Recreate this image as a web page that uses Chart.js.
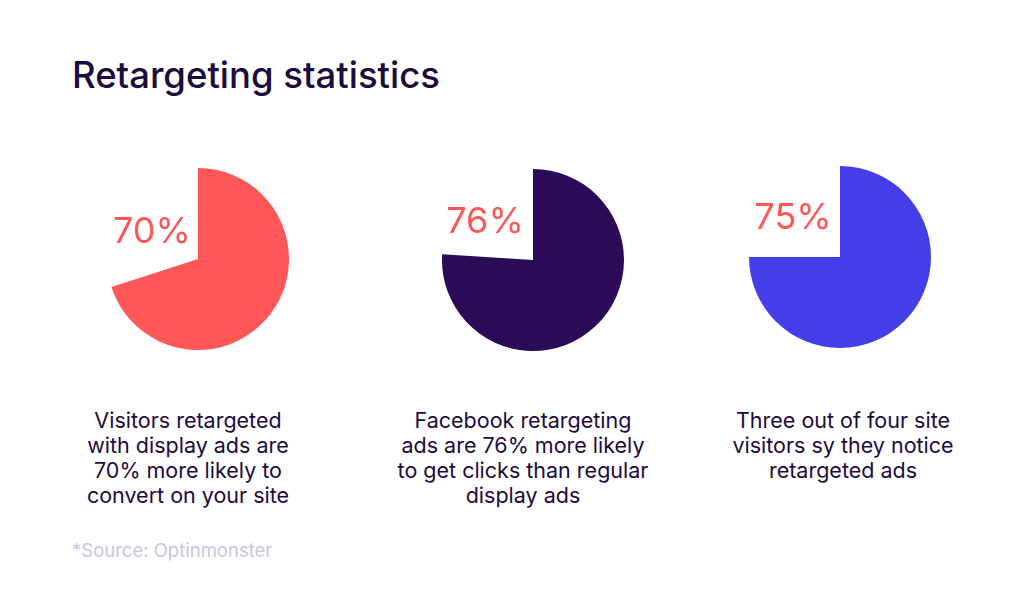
<!DOCTYPE html>
<html>
<head>
<meta charset="utf-8">
<script src="https://cdn.jsdelivr.net/npm/chart.js@4"></script>
<style>
    body { margin: 0; background: #fff; width: 1024px; height: 590px; overflow: hidden; font-family: Inter, "Noto Sans", sans-serif; }
    #title { position: absolute; left: 72px; top: 53px; font-size: 36.5px; font-weight: 500; color: #1c0b3d; margin: 0; letter-spacing: 0px; }
    .pie { position: absolute; width: 182px; height: 182px; }
    .pct { position: absolute; font-size: 36px; color: #ff5757; transform: translate(-50%, -50%); white-space: nowrap; }
    .desc { position: absolute; top: 408px; width: 320px; transform: translateX(-50%); text-align: center; font-size: 21.5px; line-height: 25px; color: #1c0b3d; }
    #source { position: absolute; left: 72px; top: 539px; font-size: 18.5px; color: #c9c4de; }
</style>
</head>
<body>
<h1 id="title">Retargeting statistics</h1>
<div id="charts"></div>
<div id="source">*Source: Optinmonster</div>
<script>
// valores de cada torta
const values = [70, 76, 75];
const labels = ["70%", "76%", "75%"];
const descriptions = [
    "Visitors retargeted<br>with display ads are<br>70% more likely to<br>convert on your site",
    "Facebook retargeting<br>ads are 76% more likely<br>to get clicks than regular<br>display ads",
    "Three out of four site<br>visitors sy they notice<br>retargeted ads"
];
const colors = ["#ff5757", "#2b0a57", "#433ee8"];

// posiciones de la página
const centers = [[198, 259], [533, 260], [840, 257]];
const labelPos = [[152, 230], [485, 220], [793, 216]];
const descX = [188, 523, 843];

let container = document.getElementById("charts");
for (let i = 0; i < values.length; i++) {
    let canvas = document.createElement("canvas");
    canvas.className = "pie";
    canvas.style.left = (centers[i][0] - 91) + "px";
    canvas.style.top = (centers[i][1] - 91) + "px";
    container.appendChild(canvas);

    new Chart(canvas, {
        type: "pie",
        data: {
            labels: ["yes", "no"],
            datasets: [{
                data: [values[i], 100 - values[i]],
                backgroundColor: [colors[i], "rgba(0,0,0,0)"],
                borderWidth: 0,
            }],
        },
        options: {
            responsive: false,
            animation: false,
            layout: { padding: 0 },
            plugins: {
                legend: { display: false },
                tooltip: { enabled: false },
            },
        },
    });

    let pct = document.createElement("div");
    pct.className = "pct";
    pct.textContent = labels[i];
    pct.style.left = labelPos[i][0] + "px";
    pct.style.top = labelPos[i][1] + "px";
    container.appendChild(pct);

    let desc = document.createElement("div");
    desc.className = "desc";
    desc.innerHTML = descriptions[i];
    desc.style.left = descX[i] + "px";
    container.appendChild(desc);
}
</script>
</body>
</html>
